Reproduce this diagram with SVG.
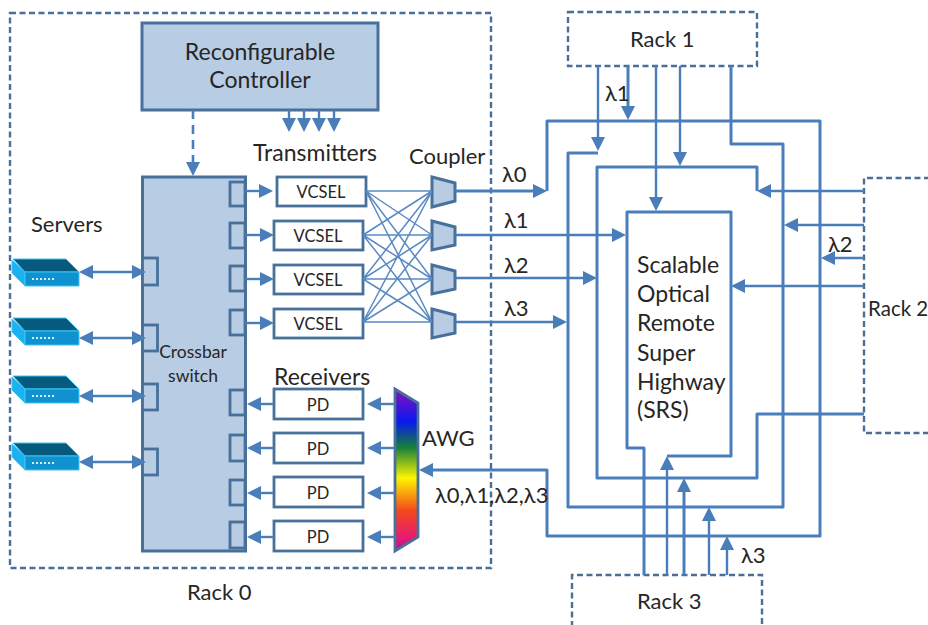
<svg xmlns="http://www.w3.org/2000/svg" width="928" height="625" viewBox="0 0 928 625">
<style>
text{font-family:"Lato","Noto Sans","DejaVu Sans",sans-serif;fill:#262626;font-size:22px}
.c{text-anchor:middle}
.big{font-size:23px}
.dash{fill:none;stroke:#4a6f96;stroke-width:2.4;stroke-dasharray:6 3.5}
.blue{fill:#b8cce4;stroke:#47709a;stroke-width:3}
.white{fill:#fff;stroke:#47709a;stroke-width:2.8}
.port{fill:#b8cce4;stroke:#47709a;stroke-width:2.8}
.small{font-size:16.500px}
.xs{font-size:17.500px}
#connectors path{fill:none;stroke:#4a7ebb;stroke-width:3;stroke-linejoin:round}
#connectors .thin{stroke-width:2.400}
#connectors .mesh{stroke-width:1.500;stroke:#5a8ac4}
#connectors .a{marker-end:url(#ah)}
#connectors .d{marker-start:url(#as);marker-end:url(#ah)}
#connectors .dd{stroke-dasharray:9 6;stroke-width:2.6}
</style>
<defs>
<marker id="ah" markerUnits="userSpaceOnUse" markerWidth="15" markerHeight="15" refX="7" refY="7" orient="auto" overflow="visible"><path d="M0,0L14,7L0,14z" fill="#4a7ebb"/></marker>
<marker id="as" markerUnits="userSpaceOnUse" markerWidth="15" markerHeight="15" refX="7" refY="7" orient="auto" overflow="visible"><path d="M14,0L0,7L14,14z" fill="#4a7ebb"/></marker>
<linearGradient id="spec" x1="0" y1="0" x2="0" y2="1">
<stop offset="0" stop-color="#8a10b8"/>
<stop offset=".2" stop-color="#0a18f0"/>
<stop offset=".36" stop-color="#157f3a"/>
<stop offset=".55" stop-color="#fdf500"/>
<stop offset=".75" stop-color="#f4481a"/>
<stop offset=".92" stop-color="#e81a72"/>
<stop offset="1" stop-color="#b010a0"/>
</linearGradient>
<g id="srv">
<path d="M13,1H66L79,14H25z" fill="#055a7e" stroke="#3fc4f4" stroke-width="1"/>
<path d="M12,2L25,14V28L12,15z" fill="#1bb2f2" stroke="#3fc4f4" stroke-width="1"/>
<path d="M25,14H79V28H25z" fill="#0f92cf" stroke="#3fc4f4" stroke-width="1"/>
<path d="M32,21H55" stroke="#d8f0fa" stroke-width="2" stroke-dasharray="2 2" fill="none"/>
</g>
</defs>

<g id="rack0"><rect class="dash" x="10" y="13" width="481" height="555"/><text x="187" y="600">Rack 0</text></g>
<g id="controller"><rect class="blue" x="142" y="23" width="236" height="87"/><text class="c big" x="260" y="60">Reconfigurable</text><text class="c big" x="260" y="88">Controller</text></g>
<g id="crossbar"><rect class="blue" x="142.500" y="177" width="103" height="374"/>
<rect class="port" x="230" y="182" width="15" height="24"/><rect class="port" x="230" y="223" width="15" height="25"/><rect class="port" x="230" y="266" width="15" height="25"/><rect class="port" x="230" y="310" width="15" height="25"/>
<rect class="port" x="230" y="390" width="15" height="25"/><rect class="port" x="230" y="435" width="15" height="26"/><rect class="port" x="230" y="480" width="15" height="25"/><rect class="port" x="230" y="522" width="15" height="26"/>
<rect class="port" x="142.500" y="258" width="15" height="27"/><rect class="port" x="142.500" y="325" width="15" height="26"/><rect class="port" x="142.500" y="384" width="15" height="26"/><rect class="port" x="142.500" y="449" width="15" height="26"/>
<text class="c xs" x="193" y="358">Crossbar</text><text class="c xs" x="193" y="382">switch</text></g>
<g id="servers"><text x="31" y="232">Servers</text><use href="#srv" y="258"/><use href="#srv" y="317"/><use href="#srv" y="375"/><use href="#srv" y="442"/></g>
<g id="transmitters"><text class="big" x="253" y="161">Transmitters</text>
<rect class="white" x="277" y="177" width="89" height="29"/><text class="c small" x="321" y="198">VCSEL</text>
<rect class="white" x="274" y="221" width="89" height="29"/><text class="c small" x="318" y="242">VCSEL</text>
<rect class="white" x="274" y="265" width="89" height="29"/><text class="c small" x="318" y="286">VCSEL</text>
<rect class="white" x="274" y="309" width="89" height="29"/><text class="c small" x="318" y="330">VCSEL</text></g>
<g id="couplers"><text x="409" y="164">Coupler</text>
<path class="blue" d="M432,177L455,183V201L432,207z"/><path class="blue" d="M432,221L455,227V245L432,250z"/><path class="blue" d="M432,265L455,271V289L432,294z"/><path class="blue" d="M432,309L455,315V333L432,338z"/></g>
<g id="receivers"><text class="big" x="274" y="385">Receivers</text>
<rect class="white" x="274" y="389" width="89" height="30"/><text class="c small" x="318" y="411">PD</text>
<rect class="white" x="274" y="433" width="89" height="30"/><text class="c small" x="318" y="455">PD</text>
<rect class="white" x="274" y="477" width="89" height="30"/><text class="c small" x="318" y="499">PD</text>
<rect class="white" x="274" y="521" width="89" height="30"/><text class="c small" x="318" y="543">PD</text></g>
<g id="awg"><path d="M395,389L418,403V537L395,551z" fill="url(#spec)" stroke="#47709a" stroke-width="2.8"/><text x="422" y="446">AWG</text></g>
<g id="srs"><text class="big" x="637" y="273">Scalable</text><text class="big" x="637" y="302">Optical</text><text class="big" x="637" y="331">Remote</text><text class="big" x="637" y="361">Super</text><text class="big" x="637" y="390">Highway</text><text class="big" x="637" y="418">(SRS)</text></g>
<g id="rack1"><rect class="dash" x="568" y="12" width="189" height="54"/><text x="630" y="47">Rack 1</text></g>
<g id="rack2"><path class="dash" d="M930,178H864V433H930"/><text x="868" y="316" style="font-size:20.500px">Rack 2</text></g>
<g id="rack3"><path class="dash" d="M572,627V575H762V627"/><text x="637" y="609">Rack 3</text></g>

<g id="connectors">
<path class="dd a" d="M193,110V169"/>
<path class="a thin" d="M289,110V125"/><path class="a thin" d="M304,110V125"/><path class="a thin" d="M319,110V125"/><path class="a thin" d="M334,110V125"/>
<path class="d thin" d="M86,272H139"/><path class="d thin" d="M86,338H139"/><path class="d thin" d="M86,396H139"/><path class="d thin" d="M86,462H139"/>
<path class="a thin" d="M245,191H266"/><path class="a thin" d="M245,235H267"/><path class="a thin" d="M245,279H267"/><path class="a thin" d="M245,323H267"/>
<path class="a thin" d="M274,404H254"/><path class="a thin" d="M274,448H254"/><path class="a thin" d="M274,493H254"/><path class="a thin" d="M274,537H254"/>
<path class="a thin" d="M395,404H374"/><path class="a thin" d="M395,448H374"/><path class="a thin" d="M395,493H374"/><path class="a thin" d="M395,537H374"/>
<path class="mesh" d="M366,191L432,191M366,191L432,235M366,191L432,279M366,191L432,322M363,235L432,191M363,235L432,235M363,235L432,279M363,235L432,322M363,279L432,191M363,279L432,235M363,279L432,279M363,279L432,322M363,322L432,191M363,322L432,235M363,322L432,279M363,322L432,322"/>
<path class="a" d="M455,191H540"/><path class="a thin" d="M455,235H619"/><path class="a thin" d="M455,278H590"/><path class="a thin" d="M455,322H560"/>
<path class="a" d="M547,191V121H820V536H547V470H426"/>
<path class="thin a" d="M598,66V144"/><path class="a" d="M628,66V113"/><path class="thin a" d="M656,66V204"/><path class="thin a" d="M680,66V159"/>
<path d="M598,153H568V507H783V144H731V66"/>
<path d="M757,191V167H597V478H757V414H864"/>
<path d="M644,575V448H627V212H731V456H667"/>
<path class="thin a" d="M667,575V463"/><path class="a" d="M684,575V485"/><path class="thin a" d="M709,575V514"/><path class="thin a" d="M727,575V543"/>
<path class="thin a" d="M864,191H764"/><path class="thin a" d="M864,225H791"/><path class="thin a" d="M864,258H828"/><path class="thin a" d="M864,286H738"/>
</g>

<g id="lambdas">
<text x="502" y="182">λ0</text><text x="504" y="228">λ1</text><text x="504" y="273">λ2</text><text x="504" y="316">λ3</text>
<text x="605" y="101">λ1</text><text x="828" y="252">λ2</text><text x="741" y="563">λ3</text><text x="435" y="503">λ0,λ1,λ2,λ3</text>
</g>
</svg>
